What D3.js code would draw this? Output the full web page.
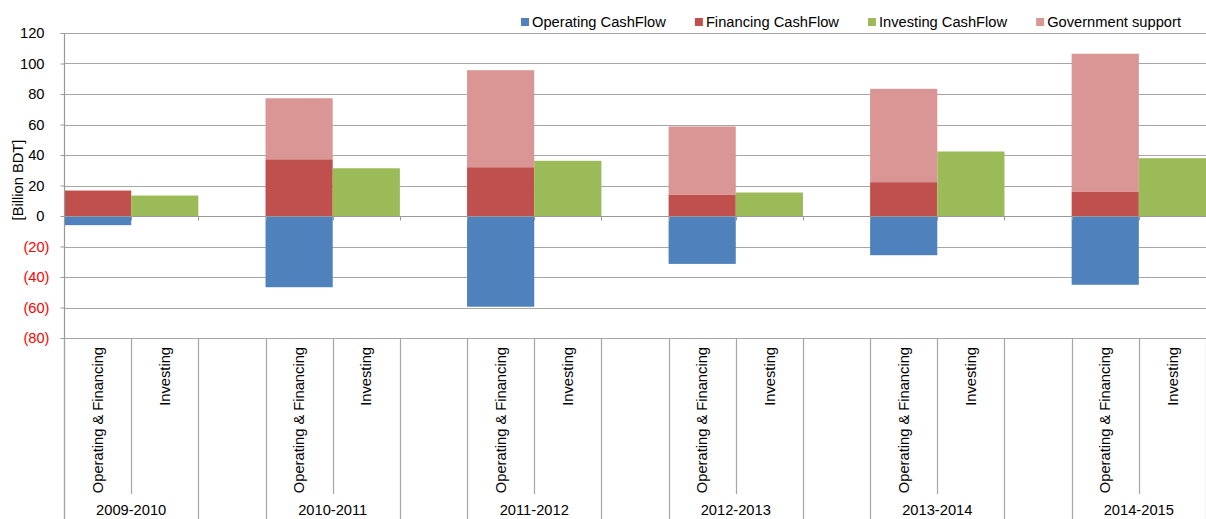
<!DOCTYPE html>
<html>
<head>
<meta charset="utf-8">
<script src="https://cdn.jsdelivr.net/npm/d3@7"></script>
<style>
  body { margin: 0; background: #fff; }
  svg { display: block; font-family: "Liberation Sans", Arial, sans-serif; }
</style>
</head>
<body>
<svg id="chart" width="1206" height="519"></svg>
<script>
// Cash flow by fiscal year, billion BDT
const years = ["2009-2010", "2010-2011", "2011-2012", "2012-2013", "2013-2014", "2014-2015"];
const subCategories = ["Operating & Financing", "Investing"];
const operating  = [-6.0, -46.7, -59.5, -31.4, -25.7, -45.1];
const financing  = [16.7, 37.2, 32.0, 14.1, 22.2, 16.1];
const government = [0.0, 40.0, 63.6, 44.6, 61.2, 90.3];
const investing  = [13.4, 31.3, 36.2, 15.4, 42.3, 37.9];
const seriesNames  = ["Operating CashFlow", "Financing CashFlow", "Investing CashFlow", "Government support"];
const seriesKeys   = ["op", "fin", "inv", "gov"];
const seriesColors = ["#4F81BD", "#C0504D", "#9BBB59", "#D99694"];
const yTicks = [-80, -60, -40, -20, 0, 20, 40, 60, 80, 100, 120];

const W = 1206, H = 519;
const plotLeft = 64, plotRight = 1206, plotTop = 33, plotBottom = 338;
const fontSize = 14.7;
const gridColor = "#a6a6a6";

// Slots: two bars per year, with an empty slot between years
const slots = [];
years.forEach((yr, i) => {
  slots.push({ key: i + "|of", year: i, kind: "of" });
  slots.push({ key: i + "|inv", year: i, kind: "inv" });
  if (i < years.length - 1) slots.push({ key: i + "|gap", year: i, kind: "gap" });
});

const rows = slots.map(s => ({
  key: s.key,
  op:  s.kind === "of"  ? operating[s.year]  : 0,
  fin: s.kind === "of"  ? financing[s.year]  : 0,
  inv: s.kind === "inv" ? investing[s.year]  : 0,
  gov: s.kind === "of"  ? government[s.year] : 0
}));

const x = d3.scaleBand().domain(slots.map(s => s.key)).range([plotLeft, plotRight]).padding(0);
const y = d3.scaleLinear().domain([-80, 120]).range([plotBottom, plotTop]);
const bw = x.bandwidth();

const svg = d3.select("#chart");

// Horizontal gridlines
svg.append("g").selectAll("line").data(yTicks).join("line")
  .attr("x1", plotLeft).attr("x2", plotRight)
  .attr("y1", d => Math.round(y(d)) + 0.5).attr("y2", d => Math.round(y(d)) + 0.5)
  .attr("stroke", gridColor).attr("stroke-width", 1.2);

// Stacked bars
const stacked = d3.stack().keys(seriesKeys).offset(d3.stackOffsetDiverging)(rows);
svg.append("g").selectAll("g").data(stacked).join("g")
  .attr("fill", (d, i) => seriesColors[i])
  .selectAll("rect").data(d => d.filter(p => p[1] !== p[0])).join("rect")
  .attr("x", d => x(d.data.key))
  .attr("width", bw)
  .attr("y", d => y(Math.max(d[0], d[1])))
  .attr("height", d => Math.abs(y(d[0]) - y(d[1])));

// Zero axis with small ticks at slot boundaries
const y0 = Math.round(y(0)) + 0.5;
svg.append("line").attr("x1", plotLeft).attr("x2", plotRight).attr("y1", y0).attr("y2", y0)
  .attr("stroke", "#999").attr("stroke-width", 1.2);
const boundaries = d3.range(slots.length + 1).map(i => plotLeft + i * bw);
svg.append("g").selectAll("line").data(boundaries).join("line")
  .attr("x1", d => Math.round(d) + 0.5).attr("x2", d => Math.round(d) + 0.5)
  .attr("y1", y0).attr("y2", y0 + 4)
  .attr("stroke", "#999");

// Y axis
const yAxis = d3.axisLeft(y).tickValues(yTicks).tickSize(4).tickSizeOuter(0)
  .tickFormat(d => d < 0 ? "(" + (-d) + ")" : String(d));
const gy = svg.append("g").attr("transform", `translate(${plotLeft + 0.5},0)`).call(yAxis);
gy.select(".domain").remove();
gy.selectAll(".tick line").attr("stroke", "#999");
gy.selectAll(".tick text")
  .attr("font-size", fontSize)
  .attr("font-family", "Liberation Sans, Arial, sans-serif")
  .attr("fill", d => d < 0 ? "#FF0000" : "#000")
  .attr("x", d => d < 0 ? -15 : -20);
svg.append("line").attr("x1", plotLeft + 0.5).attr("x2", plotLeft + 0.5).attr("y1", plotTop).attr("y2", H)
  .attr("stroke", "#999").attr("stroke-width", 1.2);

// Y axis title
svg.append("text")
  .attr("transform", "translate(23,180) rotate(-90)")
  .attr("text-anchor", "middle").attr("font-size", fontSize).attr("fill", "#000")
  .text("[Billion BDT]");

// Category label area: divider lines (shorter between the two bars of a year)
const catGroup = svg.append("g");
boundaries.forEach((bx, i) => {
  const isInner = slots[i] && slots[i].kind === "inv";
  catGroup.append("line")
    .attr("x1", Math.round(bx) + 0.5).attr("x2", Math.round(bx) + 0.5)
    .attr("y1", plotBottom).attr("y2", isInner ? 494 : H)
    .attr("stroke", gridColor).attr("stroke-width", 1.2);
});

// Rotated sub-category labels
slots.filter(s => s.kind !== "gap").forEach(s => {
  const cx = x(s.key) + bw / 2;
  catGroup.append("text")
    .attr("transform", `translate(${cx},347) rotate(-90)`)
    .attr("text-anchor", "end").attr("dy", "0.35em")
    .attr("font-size", fontSize).attr("fill", "#000")
    .text(s.kind === "of" ? subCategories[0] : subCategories[1]);
});

// Year labels
years.forEach((yr, i) => {
  const x0 = x(i + "|of"), x1 = x(i + "|inv") + bw;
  catGroup.append("text")
    .attr("x", (x0 + x1) / 2).attr("y", 515)
    .attr("text-anchor", "middle").attr("font-size", fontSize).attr("fill", "#000")
    .text(yr);
});

// Legend
const legend = svg.append("g");
let lx = 521;
seriesNames.forEach((name, i) => {
  legend.append("rect").attr("x", lx).attr("y", 18).attr("width", 8).attr("height", 8)
    .attr("fill", seriesColors[i]);
  const t = legend.append("text").attr("x", lx + 11).attr("y", 27)
    .attr("font-size", fontSize).attr("fill", "#000").text(name);
  lx += 11 + t.node().getComputedTextLength() + 29;
});
</script>
</body>
</html>
